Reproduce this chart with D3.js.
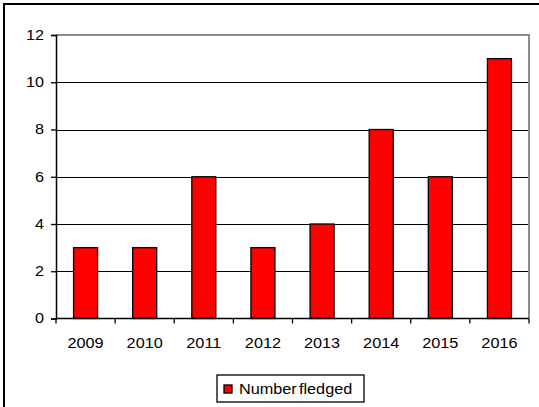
<!DOCTYPE html>
<html>
<head>
<meta charset="utf-8">
<script src="https://cdn.jsdelivr.net/npm/d3@7"></script>
<style>
  html, body { margin: 0; padding: 0; background: #fff; }
  svg { display: block; }
  text { font-family: "Liberation Sans", Arial, sans-serif; fill: #000; }
</style>
</head>
<body>
<svg id="chart" width="539" height="407"></svg>
<script>
// Fledging results per year
const years = ["2009", "2010", "2011", "2012", "2013", "2014", "2015", "2016"];
const fledged = [3, 3, 6, 3, 4, 8, 6, 11];
const yTicks = [0, 2, 4, 6, 8, 10, 12];
const seriesName = "Number fledged";

const W = 539, H = 407;
const plot = { left: 56, top: 35, right: 529, bottom: 318.5 };
const stretch = 1.16; // slightly wide lettering

const svg = d3.select("#chart");

// outer frame (only left/top edges fall inside the canvas)
svg.append("rect")
  .attr("x", 4).attr("y", 4)
  .attr("width", W + 10).attr("height", H + 10)
  .attr("fill", "#fff").attr("stroke", "#000").attr("stroke-width", 2);

const x = d3.scaleBand().domain(years).range([plot.left, plot.right]).paddingInner(0).paddingOuter(0);
const y = d3.scaleLinear().domain([0, 12]).range([plot.bottom, plot.top]);

function widen(sel) {
  sel.each(function () {
    const w = this.getComputedTextLength();
    d3.select(this).attr("textLength", w * stretch).attr("lengthAdjust", "spacingAndGlyphs");
  });
}

// gridlines
svg.append("g").selectAll("line")
  .data(yTicks.filter(t => t > 0 && t < 12))
  .join("line")
  .attr("x1", plot.left).attr("x2", plot.right)
  .attr("y1", d => Math.round(y(d)) + 0.5).attr("y2", d => Math.round(y(d)) + 0.5)
  .attr("stroke", "#000").attr("stroke-width", 1);

// plot border (top and right, gray)
svg.append("path")
  .attr("d", `M${plot.left},${y(12)}H${plot.right}V${plot.bottom}`)
  .attr("fill", "none").attr("stroke", "#8c8c8c").attr("stroke-width", 2);

// bars
const barW = 24;
svg.append("g").selectAll("rect")
  .data(years.map((yr, i) => ({ yr, v: fledged[i] })))
  .join("rect")
  .attr("x", d => x(d.yr) + x.bandwidth() / 2 - barW / 2)
  .attr("y", d => y(d.v))
  .attr("width", barW)
  .attr("height", d => y(0) - y(d.v))
  .attr("fill", "#ff0000")
  .attr("stroke", "#000").attr("stroke-width", 1.3);

// y axis
const yAxis = d3.axisLeft(y).tickValues(yTicks).tickSize(5).tickPadding(7).tickFormat(d3.format("d"));
const gy = svg.append("g").attr("transform", `translate(${plot.left},0)`).call(yAxis);
gy.select(".domain").attr("stroke", "#000").attr("stroke-width", 1.5);
gy.selectAll(".tick line").attr("stroke", "#000").attr("stroke-width", 1.3);
gy.selectAll(".tick text").attr("font-size", 14).attr("font-family", "Liberation Sans, Arial, sans-serif").attr("fill", "#000");
gy.selectAll(".tick text").each(function () {
  const t = d3.select(this);
  const w = this.getComputedTextLength();
  t.attr("textLength", w * stretch).attr("lengthAdjust", "spacingAndGlyphs").attr("x", -12 + 0);
});

// x axis: ticks sit on category boundaries
const gx = svg.append("g").attr("transform", `translate(0,${plot.bottom})`);
gx.append("line")
  .attr("x1", plot.left).attr("x2", plot.right).attr("y1", 0).attr("y2", 0)
  .attr("stroke", "#000").attr("stroke-width", 1.5);
const bounds = years.map(yr => x(yr)).concat([plot.right]);
gx.selectAll("line.tk").data(bounds).join("line").attr("class", "tk")
  .attr("x1", d => d).attr("x2", d => d).attr("y1", 0).attr("y2", 5)
  .attr("stroke", "#000").attr("stroke-width", 1.3);
gx.selectAll("text").data(years).join("text")
  .attr("x", d => x(d) + x.bandwidth() / 2)
  .attr("y", 29)
  .attr("text-anchor", "middle")
  .attr("font-size", 14)
  .text(d => d)
  .call(widen);

// legend
const lg = svg.append("g").attr("transform", "translate(217,375)");
lg.append("rect").attr("x", 0).attr("y", 0).attr("width", 147).attr("height", 27)
  .attr("fill", "#fff").attr("stroke", "#000").attr("stroke-width", 1.3);
lg.append("rect").attr("x", 7).attr("y", 10).attr("width", 8).attr("height", 8)
  .attr("fill", "#ff0000").attr("stroke", "#000").attr("stroke-width", 1.3);
lg.append("text").attr("x", 22).attr("y", 19).attr("font-size", 14).attr("word-spacing", -2)
  .text(seriesName).call(widen);
</script>
</body>
</html>
